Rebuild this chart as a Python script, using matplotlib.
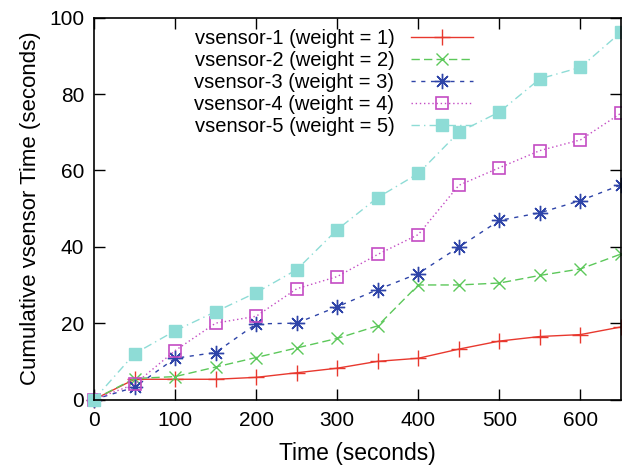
import matplotlib
matplotlib.use("Agg")
import matplotlib.pyplot as plt

plt.rcParams["font.family"] = ["Liberation Sans", "DejaVu Sans"]

time_s = [0, 50, 100, 150, 200, 250, 300, 350, 400, 450, 500, 550, 600, 650]

vsensor_1 = [0, 5.3, 5.3, 5.3, 5.8, 7.0, 8.2, 10.0, 10.8, 13.2, 15.3, 16.5, 17.0, 19.0]
vsensor_2 = [0, 5.5, 6.0, 8.5, 11.0, 13.5, 16.0, 19.3, 30.0, 30.0, 30.5, 32.5, 34.2, 38.1]
vsensor_3 = [0, 3.2, 10.8, 12.3, 19.8, 20.0, 24.3, 28.8, 33.0, 39.9, 46.9, 48.9, 52.1, 56.2]
vsensor_4 = [0, 4.0, 12.8, 20.0, 21.8, 29.0, 32.2, 38.0, 43.2, 56.1, 60.7, 65.2, 68.0, 75.0]
vsensor_5 = [0, 12.0, 18.0, 23.0, 28.0, 34.0, 44.5, 52.9, 59.2, 70.0, 75.3, 84.0, 87.0, 96.2]

labels = [
    "vsensor-1 (weight = 1)",
    "vsensor-2 (weight = 2)",
    "vsensor-3 (weight = 3)",
    "vsensor-4 (weight = 4)",
    "vsensor-5 (weight = 5)",
]
colors = ["#e8382e", "#5cc85a", "#2e44a8", "#c44cc4", "#8edcd6"]

fig = plt.figure(figsize=(6.22, 4.67), dpi=100)
ax = fig.add_axes([94 / 622, 1 - 399.5 / 467, (621 - 94) / 622, (399.5 - 17.7) / 467])

ax.plot(time_s, vsensor_1, color=colors[0], lw=1.0, ls="-",
        marker="+", ms=11, mew=1.0, label=labels[0], clip_on=False)
ax.plot(time_s, vsensor_2, color=colors[1], lw=1.0, ls=(0, (6, 3)),
        marker="x", ms=9, mew=1.0, label=labels[1], clip_on=False)
ax.plot(time_s, vsensor_3, color=colors[2], lw=1.0, ls=(0, (3, 4)),
        marker=(8, 2, 0), ms=11, mew=1.0, label=labels[2], clip_on=False)
ax.plot(time_s, vsensor_4, color=colors[3], lw=1.0, ls=(0, (1, 2)),
        marker="s", ms=9, mfc="none", mew=1.2, label=labels[3], clip_on=False)
ax.plot(time_s, vsensor_5, color=colors[4], lw=1.0, ls=(0, (6, 3, 1, 3)),
        marker="s", ms=9, mfc=colors[4], mec=colors[4], label=labels[4], clip_on=False)

ax.set_xlim(0, 650)
ax.set_ylim(0, 100)
ax.set_xticks(range(0, 601, 100))
ax.set_yticks(range(0, 101, 20))
ax.tick_params(direction="in", length=8, width=1, top=True, right=True,
               labelsize=15)
ax.tick_params(axis="x", pad=8)
ax.tick_params(axis="y", pad=7)
for sp in ax.spines.values():
    sp.set_linewidth(1.2)

ax.set_xlabel("Time (seconds)", fontsize=16.5, labelpad=9)
ax.set_ylabel("Cumulative vsensor Time (seconds)", fontsize=16, labelpad=6)

leg = ax.legend(loc="upper right", bbox_to_anchor=(473 / 622, 1 - 29 / 467),
                bbox_transform=fig.transFigure, frameon=False, markerfirst=False,
                fontsize=14.5, handlelength=3.1, handletextpad=0.8,
                labelspacing=0.15, borderaxespad=0, borderpad=0, numpoints=1)
for t in leg.get_texts():
    t.set_ha("right")

fig.savefig("out.png", dpi=100)
